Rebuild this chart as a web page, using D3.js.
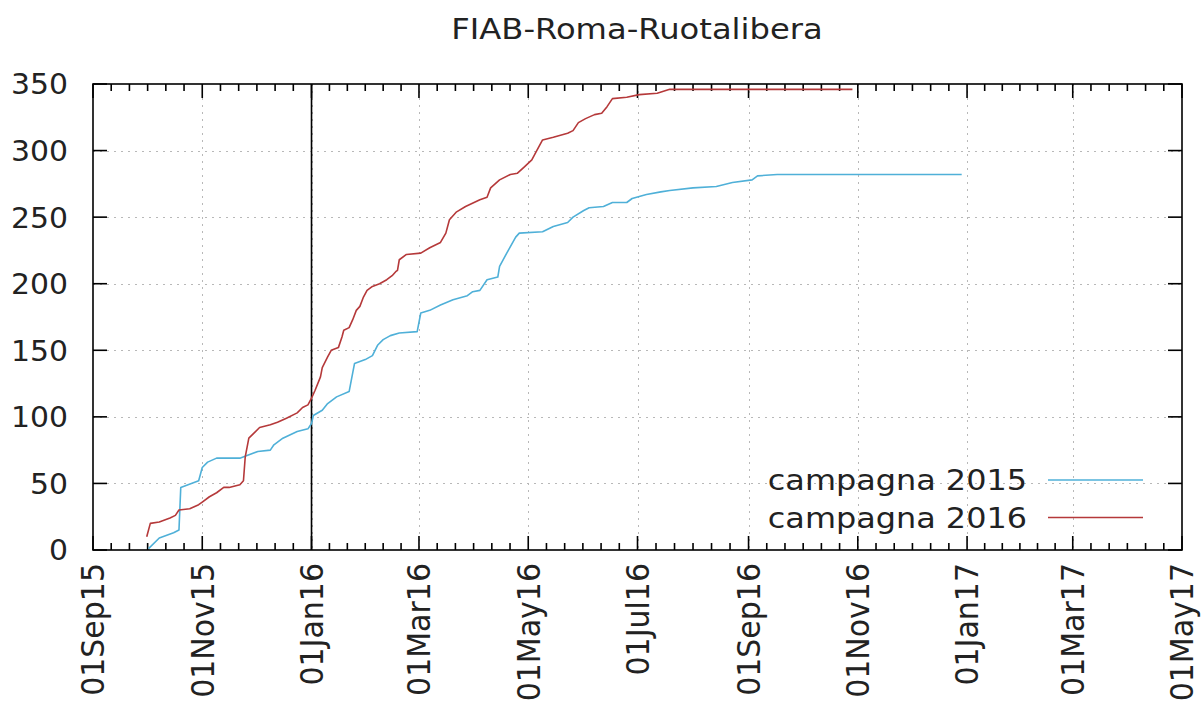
<!DOCTYPE html>
<html>
<head>
<meta charset="utf-8">
<script src="https://cdn.jsdelivr.net/npm/d3@7"></script>
<style>
  html, body { margin: 0; padding: 0; background: #fff; }
  svg { display: block; }
  text { font-family: "DejaVu Sans", sans-serif; fill: #222; }
</style>
</head>
<body>
<svg id="chart" width="1201" height="704"></svg>
<script>
const chartTitle = "FIAB-Roma-Ruotalibera";
const seriesNames = ["campagna 2015", "campagna 2016"];

const dates2015 = ["2015-10-02","2015-10-08","2015-10-16","2015-10-19","2015-10-20","2015-10-30","2015-11-01","2015-11-04","2015-11-09","2015-11-22","2015-11-26","2015-12-02","2015-12-09","2015-12-11","2015-12-16","2015-12-24","2015-12-30","2016-01-01","2016-01-02","2016-01-07","2016-01-10","2016-01-15","2016-01-22","2016-01-24","2016-01-25","2016-01-31","2016-02-04","2016-02-07","2016-02-10","2016-02-14","2016-02-19","2016-02-29","2016-03-02","2016-03-07","2016-03-13","2016-03-20","2016-03-28","2016-03-31","2016-04-04","2016-04-08","2016-04-14","2016-04-15","2016-04-19","2016-04-24","2016-04-26","2016-05-09","2016-05-15","2016-05-23","2016-05-26","2016-06-01","2016-06-04","2016-06-12","2016-06-17","2016-06-25","2016-06-28","2016-07-06","2016-07-14","2016-07-19","2016-08-01","2016-08-14","2016-08-23","2016-09-03","2016-09-06","2016-09-17","2016-12-29"];
const values2015 = [1,9,13,15,47,52,62,66,69,69,71,74,75,79,84,89,91,95,101,105,110,115,119,133,140,143,146,154,158,161,163,164,178,180,184,188,191,194,195,203,205,213,223,235,238,239,243,246,250,255,257,258,261,261,264,267,269,270,272,273,276,278,281,282,282];

const dates2016 = ["2015-10-01","2015-10-03","2015-10-08","2015-10-14","2015-10-17","2015-10-19","2015-10-25","2015-10-30","2015-11-01","2015-11-05","2015-11-09","2015-11-13","2015-11-16","2015-11-22","2015-11-24","2015-11-25","2015-11-27","2015-11-30","2015-12-03","2015-12-09","2015-12-13","2015-12-18","2015-12-24","2015-12-27","2015-12-30","2016-01-01","2016-01-03","2016-01-06","2016-01-07","2016-01-10","2016-01-12","2016-01-16","2016-01-18","2016-01-19","2016-01-22","2016-01-24","2016-01-26","2016-01-28","2016-01-30","2016-02-01","2016-02-04","2016-02-08","2016-02-12","2016-02-15","2016-02-17","2016-02-18","2016-02-19","2016-02-23","2016-03-02","2016-03-07","2016-03-13","2016-03-16","2016-03-18","2016-03-22","2016-03-27","2016-04-04","2016-04-08","2016-04-10","2016-04-15","2016-04-21","2016-04-25","2016-04-29","2016-05-03","2016-05-05","2016-05-09","2016-05-15","2016-05-23","2016-05-26","2016-05-29","2016-06-02","2016-06-07","2016-06-11","2016-06-14","2016-06-17","2016-06-25","2016-07-02","2016-07-12","2016-07-19","2016-10-29"];
const values2016 = [10,20,21,24,26,30,31,34,36,40,43,47,47,49,52,70,84,88,92,94,96,99,103,107,109,114,120,130,137,145,150,152,160,165,167,173,180,183,190,195,198,200,203,206,209,210,218,222,223,227,231,238,248,254,258,263,265,272,278,282,283,288,293,298,308,310,313,315,321,324,327,328,333,339,340,342,343,346,346];

const xTickDates = ["2015-09-01","2015-11-01","2016-01-01","2016-03-01","2016-05-01","2016-07-01","2016-09-01","2016-11-01","2017-01-01","2017-03-01","2017-05-01"];
const xTickLabels = ["01Sep15","01Nov15","01Jan16","01Mar16","01May16","01Jul16","01Sep16","01Nov16","01Jan17","01Mar17","01May17"];
const yTicks = [0,50,100,150,200,250,300,350];
const markerDate = "2016-01-01";
const seriesColors = ["#4fb0d8", "#b5393a"];

const parse = d3.utcParse("%Y-%m-%d");
const svg = d3.select("#chart");
const m = {left: 93, right: 1182, top: 84, bottom: 550};

const x = d3.scaleUtc()
  .domain([parse(xTickDates[0]), parse(xTickDates[xTickDates.length - 1])])
  .range([m.left, m.right]);
const y = d3.scaleLinear().domain([0, 350]).range([m.bottom, m.top]);

// title
svg.append("text").attr("transform", "translate(637,39) scale(1.11,1)")
  .attr("text-anchor", "middle").style("font-size", "29px").text(chartTitle);

const tickDates = xTickDates.map(parse);

// grid
const grid = svg.append("g").attr("stroke", "#b8b8b8").attr("stroke-width", 1)
  .attr("stroke-dasharray", "2,5");
grid.selectAll(".gx").data(tickDates.slice(1, -1)).join("line")
  .attr("x1", d => Math.round(x(d)) + 0.5).attr("x2", d => Math.round(x(d)) + 0.5)
  .attr("y1", m.top).attr("y2", m.bottom);
grid.selectAll(".gy").data(yTicks.slice(1, -1)).join("line")
  .attr("x1", m.left).attr("x2", m.right)
  .attr("y1", d => Math.round(y(d)) + 0.5).attr("y2", d => Math.round(y(d)) + 0.5);

// minor tick positions (6 subdivisions per major interval)
const minorPos = [];
for (let i = 0; i < tickDates.length - 1; i++) {
  const a = x(tickDates[i]), b = x(tickDates[i + 1]);
  for (let k = 1; k < 6; k++) minorPos.push(a + (b - a) * k / 6);
}

const ax = svg.append("g").attr("stroke", "#000").attr("stroke-width", 1.6);
ax.selectAll(".mxb").data(tickDates).join("line")
  .attr("x1", d => x(d)).attr("x2", d => x(d))
  .attr("y1", m.bottom).attr("y2", m.bottom - 14);
ax.selectAll(".mxt").data(tickDates).join("line")
  .attr("x1", d => x(d)).attr("x2", d => x(d))
  .attr("y1", m.top).attr("y2", m.top + 14);
ax.selectAll(".nxb").data(minorPos).join("line")
  .attr("x1", d => d).attr("x2", d => d)
  .attr("y1", m.bottom).attr("y2", m.bottom - 7);
ax.selectAll(".nxt").data(minorPos).join("line")
  .attr("x1", d => d).attr("x2", d => d)
  .attr("y1", m.top).attr("y2", m.top + 7);
ax.selectAll(".yl").data(yTicks).join("line")
  .attr("x1", m.left).attr("x2", m.left + 14)
  .attr("y1", d => y(d)).attr("y2", d => y(d));
ax.selectAll(".yr").data(yTicks).join("line")
  .attr("x1", m.right).attr("x2", m.right - 14)
  .attr("y1", d => y(d)).attr("y2", d => y(d));

// marker vertical line
svg.append("line").attr("stroke", "#000").attr("stroke-width", 1.6)
  .attr("x1", x(parse(markerDate))).attr("x2", x(parse(markerDate)))
  .attr("y1", m.top).attr("y2", m.bottom);

// series
const series = [
  {name: seriesNames[0], dates: dates2015, values: values2015, color: seriesColors[0]},
  {name: seriesNames[1], dates: dates2016, values: values2016, color: seriesColors[1]}
];
const line = d3.line().x(d => x(d[0])).y(d => y(d[1]));
series.forEach(s => {
  const pts = s.dates.map((d, i) => [parse(d), s.values[i]]);
  svg.append("path").datum(pts).attr("fill", "none")
    .attr("stroke", s.color).attr("stroke-width", 1.6)
    .attr("stroke-linejoin", "round").attr("d", line);
});

// border
svg.append("rect").attr("x", m.left).attr("y", m.top)
  .attr("width", m.right - m.left).attr("height", m.bottom - m.top)
  .attr("fill", "none").attr("stroke", "#000").attr("stroke-width", 1.6);

// y labels
svg.selectAll(".ylab").data(yTicks).join("text")
  .attr("transform", d => `translate(68,${y(d)}) scale(1.03,1)`)
  .attr("dy", "0.36em")
  .attr("text-anchor", "end").style("font-size", "29px").text(d => d);

// x labels
svg.selectAll(".xlab").data(tickDates).join("text")
  .attr("transform", d => `translate(${x(d)},563) rotate(-90) scale(1,1.05)`)
  .attr("dy", "0.36em").attr("text-anchor", "end")
  .style("font-size", "30px").text((d, i) => xTickLabels[i]);

// legend
series.forEach((s, i) => {
  const ly = 480 + i * 37.5;
  svg.append("text").attr("transform", `translate(1027,${ly}) scale(1.1,1)`)
    .attr("dy", "0.36em")
    .attr("text-anchor", "end").style("font-size", "29px").text(s.name);
  svg.append("line").attr("x1", 1048).attr("x2", 1143).attr("y1", ly).attr("y2", ly)
    .attr("stroke", s.color).attr("stroke-width", 1.6);
});
</script>
</body>
</html>
